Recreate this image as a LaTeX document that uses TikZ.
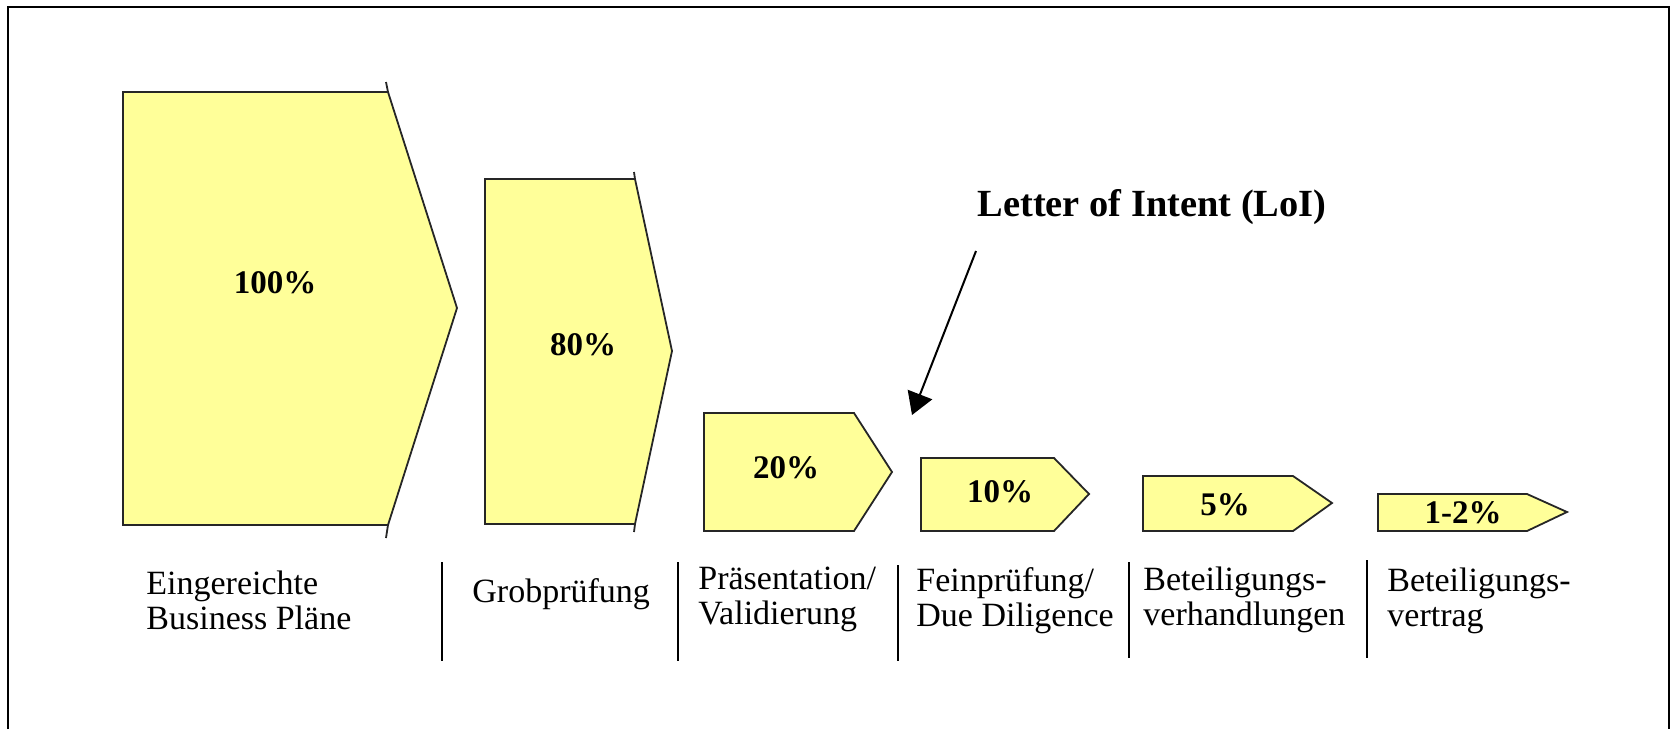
\documentclass[tikz,border=0pt]{standalone}
\usepackage{fontspec}
\setmainfont{Liberation Serif}
\usetikzlibrary{arrows.meta}
\definecolor{stagefill}{RGB}{255,255,153}
\tikzset{
  stage/.style={draw=black!85, fill=stagefill, line width=0.9pt},
  pct/.style={font=\bfseries\fontsize{16.5}{18}\selectfont, inner sep=0pt},
  phase/.style={anchor=west, align=left, inner sep=0pt, font=\fontsize{17}{17.5}\selectfont},
  divider/.style={line width=0.9pt},
}
\begin{document}
\begin{tikzpicture}[x=0.5pt,y=-0.5pt]
\useasboundingbox (0,0) rectangle (1671,729);
% frame
\draw[line width=1.2pt] (8,729) -- (8,7) -- (1669,7) -- (1669,729);
% stages
\draw[stage] (123,92) -- (388,92) -- (457,308) -- (388,525) -- (123,525) -- cycle;
\draw[stage] (388,92) -- (386,82) (388,525) -- (386,538);
\draw[stage] (485,179) -- (635,179) -- (672,351) -- (635,524) -- (485,524) -- cycle;
\draw[stage] (635,179) -- (634,172) (635,524) -- (634,532);
\draw[stage] (704,413) -- (854,413) -- (892,472) -- (854,531) -- (704,531) -- cycle;
\draw[stage] (921,458) -- (1054,458) -- (1089,494) -- (1054,531) -- (921,531) -- cycle;
\draw[stage] (1143,476) -- (1293,476) -- (1332,503) -- (1293,531) -- (1143,531) -- cycle;
\draw[stage] (1378,494) -- (1527,494) -- (1567,512) -- (1527,531) -- (1378,531) -- cycle;
% percentages
\node[pct] (p100) at (275,283) {100\%};
\node[pct] (p80) at (583,345) {80\%};
\node[pct] (p20) at (786,468) {20\%};
\node[pct] (p10) at (1000,492) {10\%};
\node[pct] (p5) at (1225,505) {5\%};
\node[pct] (p12) at (1463,513) {1-2\%};
% Letter of Intent
\node[font=\bfseries\fontsize{19.2}{21}\selectfont, inner sep=0pt] (loi) at (1152,207) {Letter of Intent (LoI)};
\coordinate (loitail) at (976,251);
\coordinate (loihead) at (912,415);
\draw[-{Triangle[length=11pt,width=13pt]}, line width=1pt] (loitail) -- (loihead);
% phases
\node[phase] (einger) at (146,600) {Eingereichte\\Business Pläne};
\node[phase] (grob) at (472,594) {Grobprüfung};
\node[phase] (praes) at (698,599) {Präsentation/\\Validierung};
\node[phase] (fein) at (916,601) {Feinprüfung/\\Due Diligence};
\node[phase] (verh) at (1143,600) {Beteiligungs-\\verhandlungen};
\node[phase] (vertr) at (1387,601) {Beteiligungs-\\vertrag};
\draw[divider] (442,562) -- (442,661);
\draw[divider] (678,562) -- (678,661);
\draw[divider] (898,565) -- (898,661);
\draw[divider] (1129,562) -- (1129,658);
\draw[divider] (1367,560) -- (1367,658);
\end{tikzpicture}
\end{document}
